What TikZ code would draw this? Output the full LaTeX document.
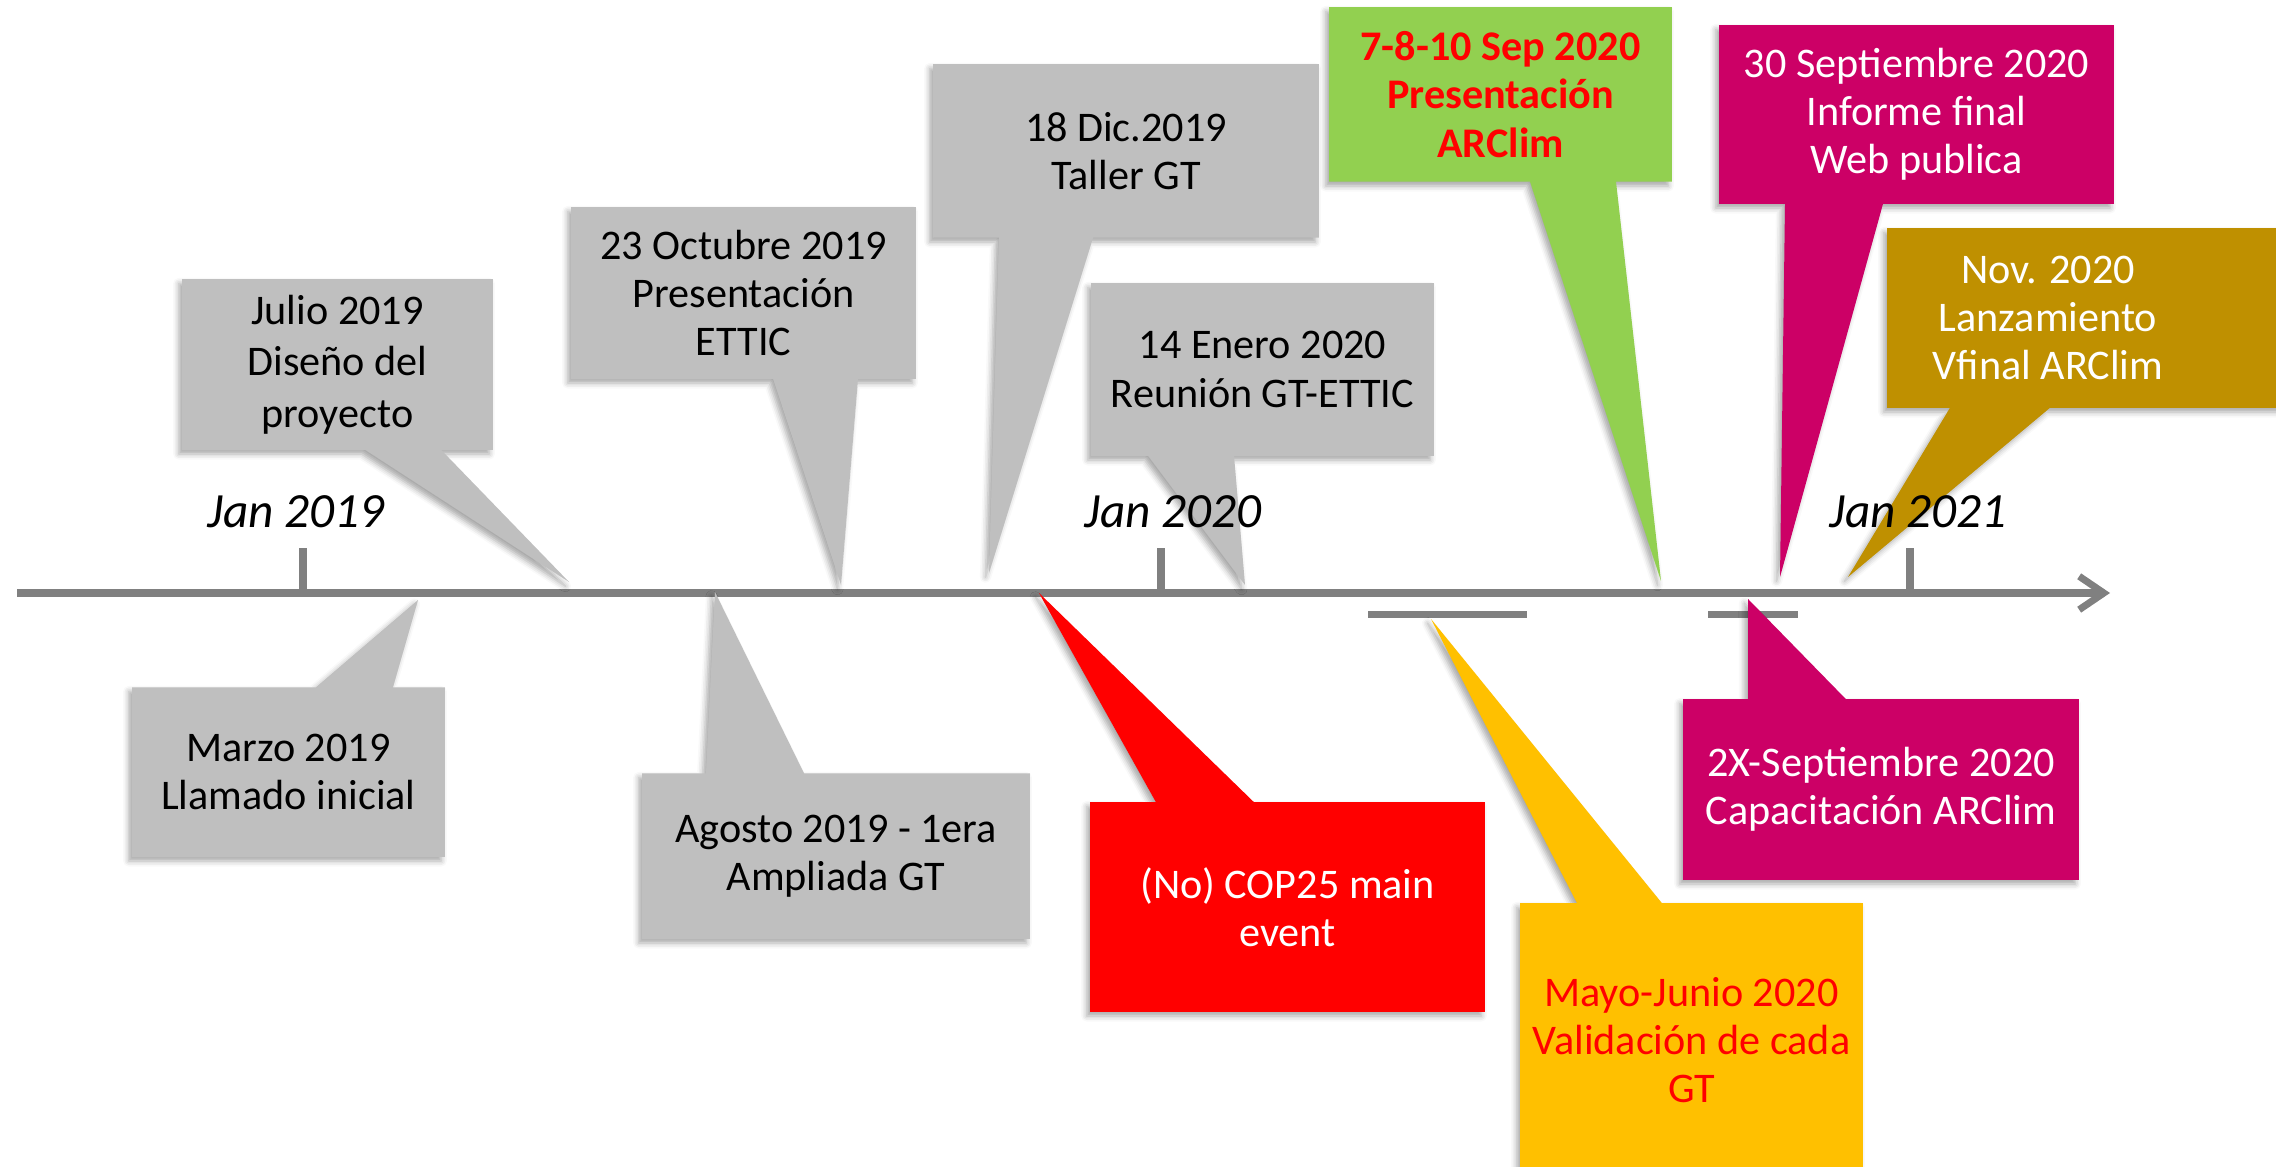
\documentclass[tikz,border=0pt]{standalone}
\usepackage{fontspec}
\setmainfont{Carlito}
\usepackage{xcolor}
\usepackage{tikz}
\usetikzlibrary{arrows.meta, calc, backgrounds, shadows.blur}
\definecolor{boxgray}{RGB}{191, 191, 191}
\definecolor{axisgray}{RGB}{128, 128, 128}
\definecolor{sepgreen}{RGB}{146, 208, 80}
\definecolor{webmagenta}{RGB}{204, 0, 102}
\definecolor{launchgold}{RGB}{191, 144, 0}
\definecolor{copred}{RGB}{255, 0, 0}
\definecolor{valyellow}{RGB}{255, 192, 0}

\tikzset{
    event/.style={inner sep=0pt, align=center, font=\fontsize{12}{13.7}\selectfont},
    bubble/.style={blur shadow={shadow xshift=-1pt, shadow yshift=-1.2pt,
                   shadow blur radius=1.6pt, shadow opacity=35}},
    axisline/.style={draw=axisgray, line width=0.07cm},
    yearlabel/.style={inner sep=0pt, font=\fontsize{14}{16}\selectfont\itshape}
}

% speech bubble, box above the axis: colour, node, tail base (x from, x to), tip
\newcommand{\bubbledown}[5]{%
    \fill[#1, bubble] (#2.north west) -- (#2.north east) -- (#2.south east)
        -- (#4,0 |- #2.south) -- (#5) -- (#3,0 |- #2.south) -- (#2.south west) -- cycle;}
% same, box below the axis
\newcommand{\bubbleup}[5]{%
    \fill[#1, bubble] (#2.south west) -- (#2.south east) -- (#2.north east)
        -- (#4,0 |- #2.north) -- (#5) -- (#3,0 |- #2.north) -- (#2.north west) -- cycle;}

\begin{document}
\begin{tikzpicture}[x=0.01cm, y=-0.01cm]
    \useasboundingbox (0,0) rectangle (2276,1167);

    % boxes above the axis
    \node[event, minimum width=3.09cm, minimum height=1.69cm, font=\fontsize{12}{14.6}\selectfont]
        (jul) at (337.5,364.5) {Julio 2019\\Diseño del\\proyecto};
    \node[event, minimum width=3.43cm, minimum height=1.70cm] (oct) at (743.5,293) {23 Octubre 2019\\Presentación\\ETTIC};
    \node[event, minimum width=3.84cm, minimum height=1.72cm] (dic) at (1126,151) {18 Dic.2019\\Taller GT};
    \node[event, minimum width=3.41cm, minimum height=1.71cm] (ene) at (1262.5,369.5) {14 Enero 2020\\Reunión GT-ETTIC};
    \node[event, minimum width=3.41cm, minimum height=1.73cm, text=copred, font=\fontsize{12}{13.7}\selectfont\bfseries]
        (sep) at (1500.5,94.5) {7-8-10 Sep 2020\\Presentación\\ARClim};
    \node[event, minimum width=3.93cm, minimum height=1.77cm, text=white] (inf) at (1916.5,114.5) {30 Septiembre 2020\\Informe final\\Web publica};
    \node[event, minimum width=3.20cm, minimum height=1.78cm, text=white] (nov) at (2048,318) {Nov. 2020\\Lanzamiento\\Vfinal ARClim};

    % boxes below the axis
    \node[event, minimum width=3.11cm, minimum height=1.68cm] (mar) at (288.5,772) {Marzo 2019\\Llamado inicial};
    \node[event, minimum width=3.86cm, minimum height=1.64cm] (ago) at (836,856) {Agosto 2019 - 1era\\Ampliada GT};
    \node[event, minimum width=3.93cm, minimum height=2.08cm, text=white] (cop) at (1287.5,907) {(No) COP25 main\\event};
    \node[event, minimum width=3.41cm, minimum height=2.72cm, text=copred] (may) at (1691.5,1040) {Mayo-Junio 2020\\Validación de cada\\GT};
    \node[event, minimum width=3.94cm, minimum height=1.79cm, text=white] (cap) at (1881,789.5) {2X-Septiembre 2020\\Capacitación ARClim};

    % where the tails point
    \coordinate (tjul) at (569,582);
    \coordinate (toct) at (841,585);
    \coordinate (tdic) at (989,573);
    \coordinate (tene) at (1245,585);
    \coordinate (tsep) at (1661,581);
    \coordinate (tinf) at (1780,577);
    \coordinate (tnov) at (1848,577);
    \coordinate (tmar) at (418,600);
    \coordinate (tago) at (715,592);
    \coordinate (tcop) at (1039,593);
    \coordinate (tmay) at (1431,619);
    \coordinate (tcap) at (1748,599);
    \coordinate (novedge) at (2290,0);

    \begin{scope}[on background layer]
        % time line
        \draw[axisline, -{Straight Barb[length=7pt, width=9.5pt]}] (17,593) -- (2110,593);
        \foreach \x in {303, 1161, 1910}
            \draw[axisline, line width=0.08cm] (\x,548) -- (\x,593);
        \draw[axisline] (1368,614) -- (1527,614);
        \draw[axisline] (1708,614) -- (1798,614);

        \bubbledown{boxgray}{jul}{365}{441}{tjul}
        \bubbledown{boxgray}{oct}{773}{858}{toct}
        \bubbledown{boxgray}{dic}{999}{1093}{tdic}
        \bubbledown{boxgray}{ene}{1148}{1234}{tene}
        \bubbledown{sepgreen}{sep}{1530}{1616}{tsep}
        \bubbledown{webmagenta}{inf}{1785}{1883}{tinf}
        \fill[launchgold, bubble] (nov.north west) -- (novedge |- nov.north) -- (novedge |- nov.south)
            -- (2050,0 |- nov.south) -- (tnov) -- (1950,0 |- nov.south) -- (nov.south west) -- cycle;

        \bubbleup{boxgray}{mar}{316}{393}{tmar}
        \bubbleup{boxgray}{ago}{706}{804}{tago}
        \bubbleup{copred}{cop}{1156}{1254}{tcop}
        \bubbleup{valyellow}{may}{1577}{1662}{tmay}
        \bubbleup{webmagenta}{cap}{1748}{1846}{tcap}
    \end{scope}

    \node[yearlabel] (jan2019) at (296,512) {Jan 2019};
    \node[yearlabel] (jan2020) at (1173,512) {Jan 2020};
    \node[yearlabel] (jan2021) at (1918,512) {Jan 2021};
\end{tikzpicture}
\end{document}
